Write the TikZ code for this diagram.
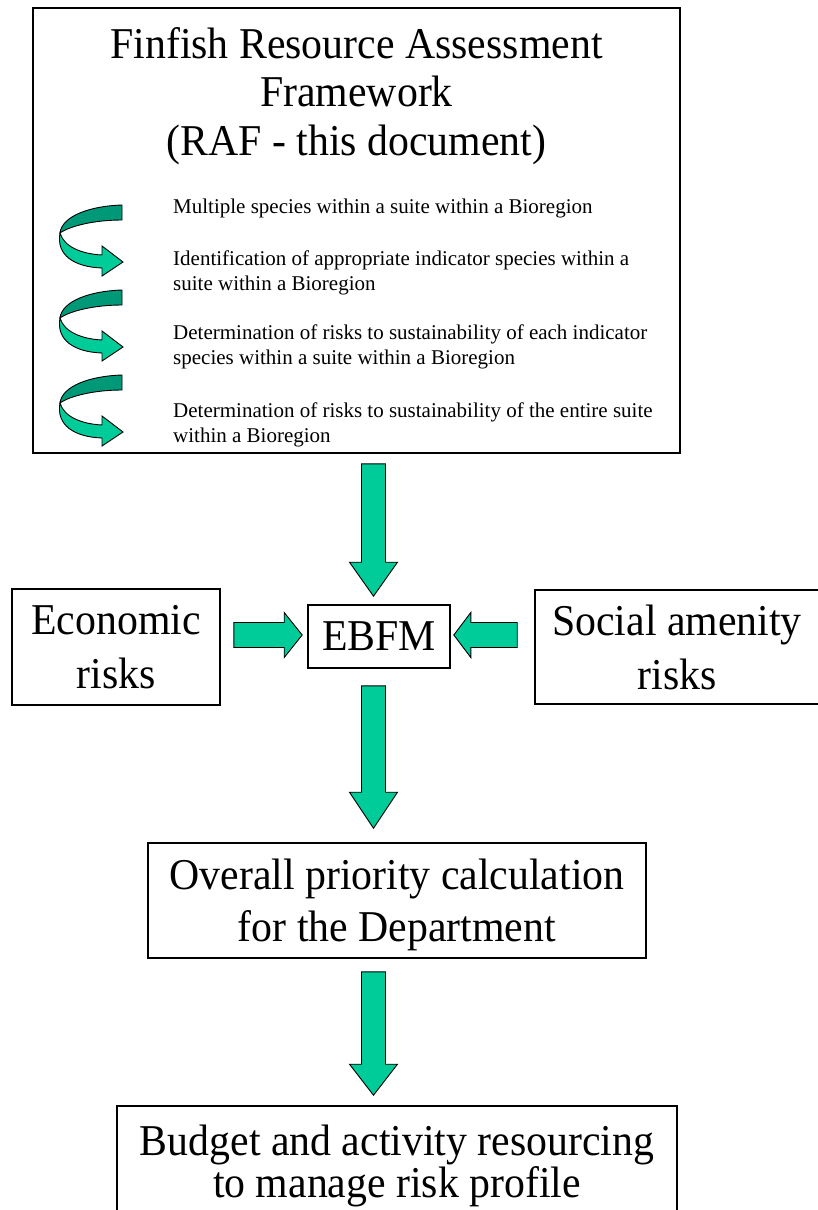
\documentclass[tikz,border=0pt]{standalone}
\usepackage{fontspec}
\setmainfont{Liberation Serif}[FakeStretch=0.95]
\newfontfamily\itemfont{Liberation Serif}
\usepackage{tikz}
\usetikzlibrary{calc}

\definecolor{arrowgreen}{HTML}{00CC99}
\definecolor{curldark}{HTML}{009977}

\tikzset{
    fat arrow/.style n args={3}{
        draw = black,
        fill = arrowgreen,
        line width = 0.9pt,
        line join = miter,
        to path={
            -- ($(\tikztostart)!#1!90:(\tikztotarget)$)
            -- ($(\tikztotarget)!#3!(\tikztostart)!#1!90:(\tikztotarget)$)
            -- ($(\tikztotarget)!#3!(\tikztostart)!#2!90:(\tikztotarget)$)
            -- (\tikztotarget)
            -- ($(\tikztotarget)!#3!(\tikztostart)!#2!-90:(\tikztotarget)$)
            -- ($(\tikztotarget)!#3!(\tikztostart)!#1!-90:(\tikztotarget)$)
            -- ($(\tikztostart)!#1!-90:(\tikztotarget)$)
            -- cycle
        }
    },
    curl/.pic={
        \draw[fill=curldark, line width=0.9pt]
            (0,0) .. controls (-32,1) and (-60,11) .. (-62,28)
            .. controls (-52,21) and (-28,15) .. (0,15) -- cycle;
        \draw[fill=arrowgreen, line width=0.9pt, line join=miter]
            (-62,28) .. controls (-58,42) and (-40,49) .. (-20,50)
            -- (-20,41) -- (1,57) -- (-20,71) -- (-20,63)
            .. controls (-48,62) and (-66,50) .. (-62,28) -- cycle;
    }
}

\begin{document}
\begin{tikzpicture}[x=1pt, y=-1pt]
    \tikzstyle{box}=[
        draw = black,
        line width = 1.6pt,
        fill = white,
        align = center,
        inner sep = 2pt
    ]
    \tikzstyle{item}=[
        anchor = north west,
        inner sep = 0pt,
        align = left,
        font = \itemfont\fontsize{21}{25}\selectfont
    ]

    \useasboundingbox (0,0) rectangle (818,1210);

    % framework box
    \node[box, minimum width=647pt, minimum height=445pt] (raf) at (356.5,230.5) {};
    \node[inner sep=0pt, anchor=north, align=center,
          font=\fontsize{44}{48.5}\selectfont] (title) at (356.5,27)
        {Finfish Resource Assessment\\Framework\\(RAF - this document)};

    \foreach \t in {205,290,375}
        \pic at (122,\t) {curl};

    \node[item] (s1) at (173,199) {Multiple species within a suite within a Bioregion};
    \node[item] (s2) at (173,250.5) {Identification of appropriate indicator species within a\\suite within a Bioregion};
    \node[item] (s3) at (173,325) {Determination of risks to sustainability of each indicator\\species within a suite within a Bioregion};
    \node[item] (s4) at (173,403) {Determination of risks to sustainability of the entire suite\\within a Bioregion};

    % risk boxes
    \node[box, minimum width=142pt, minimum height=63pt,
          font=\fontsize{44}{50}\selectfont] (ebfm) at (379,636.5) {EBFM};
    \node[box, minimum width=208pt, minimum height=116pt,
          font=\fontsize{44}{54}\selectfont] (econ) at (116,647) {Economic\\risks};
    \node[box, minimum width=284pt, minimum height=114pt,
          font=\fontsize{44}{54}\selectfont] (social) at (677,647) {Social amenity\\risks};
    \node[box, minimum width=498pt, minimum height=115pt, text depth=0pt,
          font=\fontsize{44}{52}\selectfont] (overall) at (397,900.5)
        {Overall priority calculation\\for the Department};
    \node[box, minimum width=560pt, minimum height=110pt, text depth=0pt,
          font=\fontsize{44}{40}\selectfont] (budget) at (397,1161)
        {Budget and activity resourcing\\to manage risk profile};

    % block arrows
    \draw[fat arrow={12pt}{24pt}{34pt}] ([xshift=17pt,yshift=-10pt]raf.south) to ([xshift=-5.5pt,yshift=8pt]ebfm.north);
    \draw[fat arrow={12.5pt}{22.5pt}{18pt}] ([xshift=13pt,yshift=12pt]econ.east) to ([xshift=-5pt,yshift=1.5pt]ebfm.west);
    \draw[fat arrow={12.5pt}{22.5pt}{17pt}] ([xshift=-17pt,yshift=12pt]social.west) to ([xshift=3pt,yshift=1.5pt]ebfm.east);
    \draw[fat arrow={12pt}{24pt}{36pt}] ([xshift=-5.5pt,yshift=-17pt]ebfm.south) to ([xshift=-23.5pt,yshift=14pt]overall.north);
    \draw[fat arrow={12pt}{24pt}{31pt}] ([xshift=-23.5pt,yshift=-13pt]overall.south) to ([xshift=-23.5pt,yshift=10pt]budget.north);

\end{tikzpicture}
\end{document}
